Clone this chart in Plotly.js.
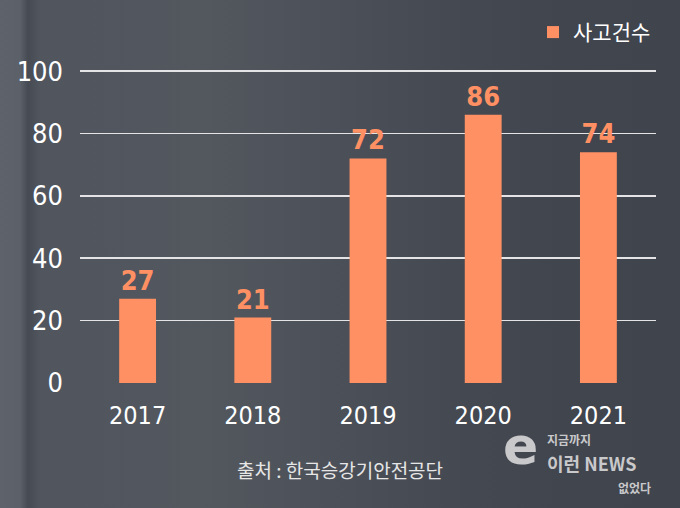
<!DOCTYPE html>
<html>
<head>
<meta charset="utf-8">
<script src="https://cdn.plot.ly/plotly-3.0.1.min.js"></script>
<style>
html,body{margin:0;padding:0;}
body{width:680px;height:508px;overflow:hidden;
background:linear-gradient(90deg,#5e636b 0px,#5c6169 20px,#464b53 28px,#50555e 40px,#53585f 200px,#4c5159 330px,#454a52 450px,#41454e 560px,#40444d 680px);}
#chart{width:680px;height:508px;}
</style>
</head>
<body>
<div id="chart"></div>
<script>
const years = ['2017','2018','2019','2020','2021'];
const accidents = [27, 21, 72, 86, 74];
const seriesName = '사고건수';
const yTicks = [0, 20, 40, 60, 80, 100];
const sourceText = '출처 : 한국승강기안전공단';

const numFont = '"DejaVu Sans Condensed", "DejaVu Sans", sans-serif';
const krFont = '"Noto Sans CJK KR", sans-serif';
const orange = '#ff9063';

const trace = {
  type: 'bar',
  x: years,
  y: accidents,
  name: seriesName,
  marker: {color: orange},
  text: accidents.map(String),
  textposition: 'outside',
  cliponaxis: false,
  textfont: {family: numFont, size: 27, color: orange, weight: 'bold', stretch: 'condensed'},
  hoverinfo: 'x+y'
};

const layout = {
  width: 680, height: 508,
  margin: {l: 80, r: 24, t: 67, b: 125},
  paper_bgcolor: 'rgba(0,0,0,0)',
  plot_bgcolor: 'rgba(0,0,0,0)',
  bargap: 0.68,
  showlegend: true,
  legend: {x: 1, xanchor: 'right', y: 1.12, yanchor: 'middle', bgcolor: 'rgba(0,0,0,0)',
           font: {family: krFont, size: 21, color: '#ffffff'}},
  xaxis: {showgrid: false, zeroline: false, showline: false, ticks: '',
          tickfont: {family: numFont, size: 25, color: '#ffffff', stretch: 'condensed'}, ticklabelstandoff: 15, fixedrange: true},
  yaxis: {range: [0, 100.35], tickvals: yTicks, showgrid: true, gridcolor: '#e4e4e6', gridwidth: 1.5,
          zeroline: false, showline: false, ticks: '',
          tickfont: {family: numFont, size: 27, color: '#ffffff', stretch: 'condensed'}, ticklabelstandoff: 16, fixedrange: true},
  annotations: [
    {xref: 'paper', yref: 'paper', x: 0.451, y: -0.276, text: sourceText, showarrow: false,
     font: {family: krFont, size: 19, color: '#e6e6e6'}, xanchor: 'center', yanchor: 'middle'},
    {xref: 'paper', yref: 'paper', x: 0.764, y: -0.2, text: '<b>e</b>', showarrow: false,
     font: {family: '"DejaVu Sans", sans-serif', size: 52, color: '#c9c9cb'}, xanchor: 'center', yanchor: 'middle'},
    {xref: 'paper', yref: 'paper', x: 0.808, y: -0.18, text: '<b>지금까지</b>', showarrow: false,
     font: {family: krFont, size: 12, color: '#c9c9cb'}, xanchor: 'left', yanchor: 'middle'},
    {xref: 'paper', yref: 'paper', x: 0.808, y: -0.256, text: '<b>이런 NEWS</b>', showarrow: false,
     font: {family: krFont, size: 18, color: '#c9c9cb', stretch: 'condensed'}, xanchor: 'left', yanchor: 'middle'},
    {xref: 'paper', yref: 'paper', x: 0.995, y: -0.333, text: '<b>없었다</b>', showarrow: false,
     font: {family: krFont, size: 12, color: '#c9c9cb'}, xanchor: 'right', yanchor: 'middle'}
  ]
};

Plotly.newPlot('chart', [trace], layout, {displayModeBar: false, staticPlot: true});
</script>
</body>
</html>
